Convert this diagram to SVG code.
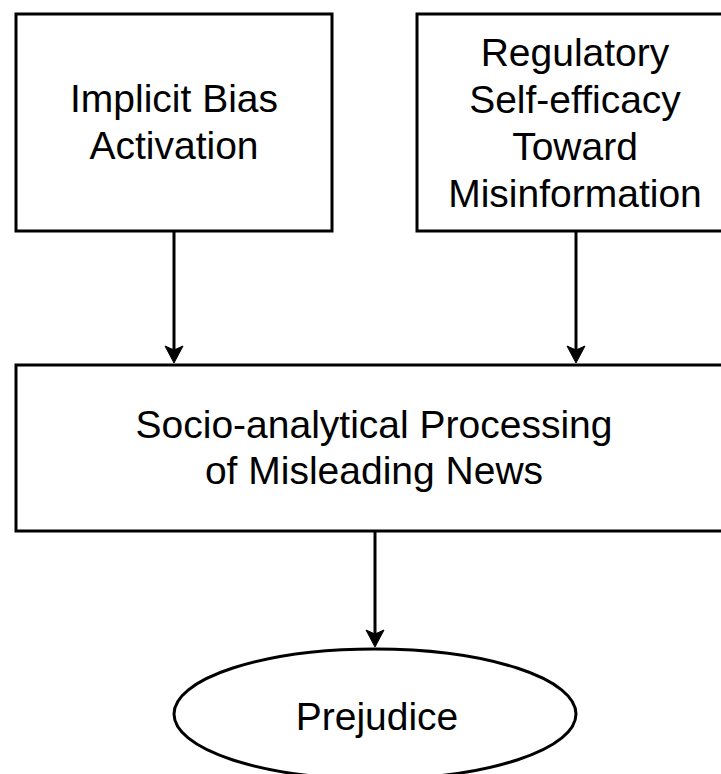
<svg xmlns="http://www.w3.org/2000/svg" width="721" height="774" viewBox="0 0 721 774">
<style>
.box{fill:#fff;stroke:#000;stroke-width:3}
.lbl{font-family:"Liberation Sans",Arial,sans-serif;font-size:39px;fill:#000;text-anchor:middle}
.edge{stroke:#000;stroke-width:3;fill:none}
.head{fill:#000;stroke:#000;stroke-width:1}
</style>
<rect width="721" height="774" fill="#fff"/>
<g id="node-implicit-bias">
<rect class="box" x="16" y="14" width="316" height="217"/>
<text class="lbl" x="174" y="112">Implicit Bias</text>
<text class="lbl" x="174" y="159">Activation</text>
</g>
<g id="node-regulatory">
<rect class="box" x="417" y="14" width="320" height="217"/>
<text class="lbl" x="575" y="66">Regulatory</text>
<text class="lbl" x="575" y="113">Self-efficacy</text>
<text class="lbl" x="575" y="160">Toward</text>
<text class="lbl" x="575" y="207">Misinformation</text>
</g>
<g id="node-processing">
<rect class="box" x="16" y="365" width="721" height="166"/>
<text class="lbl" x="374" y="438">Socio-analytical Processing</text>
<text class="lbl" x="374" y="484">of Misleading News</text>
</g>
<g id="node-prejudice">
<ellipse class="box" cx="375" cy="714" rx="201" ry="65"/>
<text class="lbl" x="377" y="730">Prejudice</text>
</g>
<g id="connectors">
<line class="edge" x1="174" y1="231" x2="174" y2="352"/>
<path class="head" d="M165,346 L174,363 L183,346 L174,350 Z"/>
<line class="edge" x1="576" y1="231" x2="576" y2="352"/>
<path class="head" d="M567,346 L576,363 L585,346 L576,350 Z"/>
<line class="edge" x1="375" y1="531" x2="375" y2="636"/>
<path class="head" d="M366,630 L375,647 L384,630 L375,634 Z"/>
</g>
</svg>
